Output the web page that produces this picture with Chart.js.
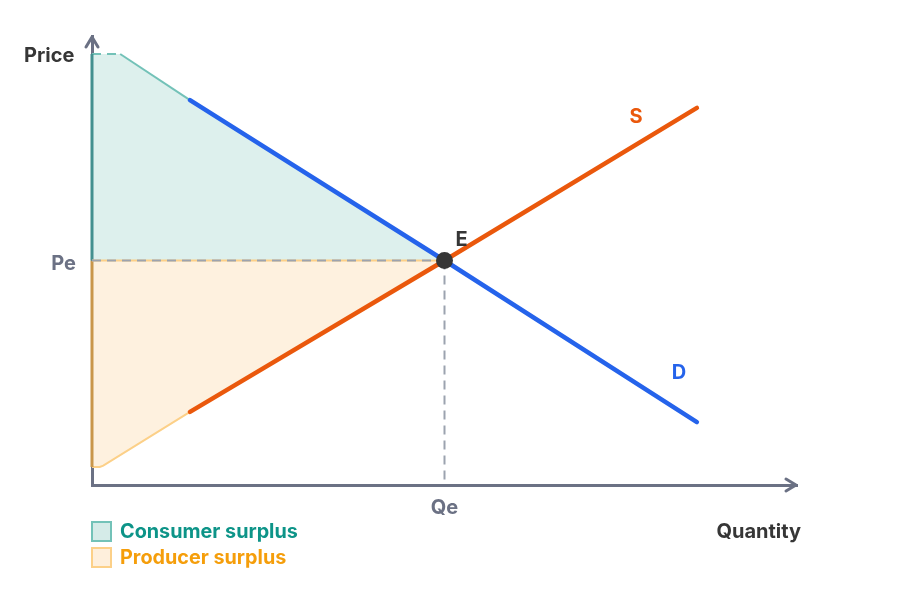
<!DOCTYPE html>
<html>
<head>
<meta charset="utf-8">
<title>Consumer and producer surplus</title>
<script src="https://cdn.jsdelivr.net/npm/chart.js@4/dist/chart.umd.min.js"></script>
<style>
  html, body { margin: 0; background: #fff; }
  #wrap { position: relative; width: 900px; height: 601px; overflow: hidden; }
  #legend { position: absolute; left: 91px; top: 518px; list-style: none; margin: 0; padding: 0;
    font: 700 19.8px Inter, sans-serif; }
  #legend li { display: flex; align-items: center; height: 26px; }
  #legend .swatch { width: 17px; height: 17px; margin-right: 8px; border: 2px solid; }
</style>
</head>
<body>
<div id="wrap">
  <canvas id="chart" width="900" height="601"></canvas>
  <ul id="legend">
    <li style="color:#0d9488"><span class="swatch" style="background:#d5ebe8;border-color:#73c2b8"></span>Consumer surplus</li>
    <li style="color:#f59e0b"><span class="swatch" style="background:#feefdc;border-color:#fcd088"></span>Producer surplus</li>
  </ul>
</div>
<script>
// equilibrium
const equilibriumQ = 50;
const equilibriumP = 50;

// curves, as quantity / price pairs
const demandQ = [13.9, 50, 85.8];
const demandP = [85.7, 50, 14];
const supplyQ = [13.9, 50, 85.8];
const supplyP = [16.3, 50, 84];

// outlines of the two surplus areas
const consumerQ = [0, 4, 13.9, 50];
const consumerP = [96, 96, 85.7, 50];
const producerQ = [0, 1.1, 1.6, 13.9, 50];
const producerP = [4, 4, 4.3, 16.3, 50];

const zip = (xs, ys) => xs.map((x, i) => ({ x, y: ys[i] }));
const FONT = "Inter, sans-serif";
const DARK = "#363636";

const line = (data, color, width, order, extra) => ({
  data, borderColor: color, borderWidth: width, order,
  showLine: true, pointRadius: 0, tension: 0, clip: false, fill: false, ...extra,
});

/** Arrow heads on the axes and the free text labels. */
const annotate = {
  id: "annotate",
  afterDraw(chart) {
    const { ctx, scales: { x, y } } = chart;
    const x0 = x.getPixelForValue(0), y0 = y.getPixelForValue(0);
    const xEnd = x.getPixelForValue(100), yEnd = y.getPixelForValue(100);
    ctx.save();
    ctx.strokeStyle = "#6b7184"; ctx.lineWidth = 3; ctx.lineCap = "round"; ctx.lineJoin = "round";
    ctx.beginPath();
    ctx.moveTo(x0 - 6, yEnd + 11); ctx.lineTo(x0, yEnd + 1); ctx.lineTo(x0 + 6, yEnd + 11);
    ctx.moveTo(xEnd - 11, y0 - 6); ctx.lineTo(xEnd - 1, y0); ctx.lineTo(xEnd - 11, y0 + 6);
    ctx.stroke();
    const text = (s, px, py, color, align) => {
      ctx.fillStyle = color; ctx.textAlign = align || "center"; ctx.textBaseline = "middle";
      ctx.fillText(s, px, py);
    };
    ctx.font = "700 20px " + FONT;
    text("Price", 24, 56, DARK, "left");
    text("Quantity", 801, 532, DARK, "right");
    text("Pe", x0 - 16, y.getPixelForValue(equilibriumP) + 3, "#6b7184", "right");
    text("E", x.getPixelForValue(equilibriumQ) + 17, y.getPixelForValue(equilibriumP) - 21, DARK);
    text("S", 636, 117, "#ea580c");
    text("D", 679, 373, "#2563eb");
    ctx.restore();
  },
};

new Chart(document.getElementById("chart"), {
  type: "scatter",
  plugins: [annotate],
  data: {
    datasets: [
      line([{ x: equilibriumQ, y: equilibriumP }], DARK, 0, 1, { pointRadius: 8.5, pointBackgroundColor: DARK, showLine: false }),
      line(zip(supplyQ, supplyP), "#ea580c", 4.5, 2, { borderCapStyle: "round" }),
      line(zip(demandQ, demandP), "#2563eb", 4.5, 3, { borderCapStyle: "round" }),
      line(zip([0, equilibriumQ], [equilibriumP, equilibriumP]), "#9ca3af", 2, 4, { borderDash: [9, 6] }),
      line(zip([equilibriumQ, equilibriumQ], [equilibriumP, 0]), "#9ca3af", 2, 4, { borderDash: [9, 6] }),
      line(zip([0, equilibriumQ], [equilibriumP, equilibriumP]), "#fcd088", 2, 5),
      // left edges of the areas, over the price axis
      line(zip([0, 0], [equilibriumP, consumerP[0]]), "#43908f", 3, 6),
      line(zip([0, 0], [producerP[0], equilibriumP]), "#c9964a", 3, 6),
      // surplus outlines and fills
      line(zip(consumerQ.slice(0, 2), consumerP.slice(0, 2)), "#73c2b8", 2, 7, { borderDash: [9, 6] }),
      line(zip(consumerQ.slice(1, 3), consumerP.slice(1, 3)), "#73c2b8", 2, 7),
      line(zip(producerQ.slice(0, 4), producerP.slice(0, 4)), "#fcd088", 2, 7),
      line(zip(consumerQ, consumerP), "transparent", 0, 8, { fill: { target: { value: equilibriumP } }, backgroundColor: "#ddf0ed" }),
      line(zip(producerQ, producerP), "transparent", 0, 8, { fill: { target: { value: equilibriumP } }, backgroundColor: "#fef1df" }),
    ],
  },
  options: {
    responsive: false,
    animation: false,
    layout: { padding: { top: 36, right: 103, left: 0, bottom: 0 } },
    plugins: { legend: { display: false }, tooltip: { enabled: false } },
    scales: {
      x: {
        min: 0, max: 100,
        afterFit: (s) => { s.height = 116; },
        afterBuildTicks: (s) => { s.ticks = [{ value: equilibriumQ }]; },
        ticks: { callback: () => "Qe", color: "#6b7184", padding: 11, maxRotation: 0, font: { family: FONT, size: 20, weight: "700" } },
        grid: { display: false, drawTicks: false },
        border: { display: true, color: "#6b7184", width: 3 },
      },
      y: {
        min: 0, max: 100,
        afterFit: (s) => { s.width = 92; },
        ticks: { display: false },
        grid: { display: false, drawTicks: false },
        border: { display: true, color: "#6b7184", width: 3 },
      },
    },
  },
});
</script>
</body>
</html>
